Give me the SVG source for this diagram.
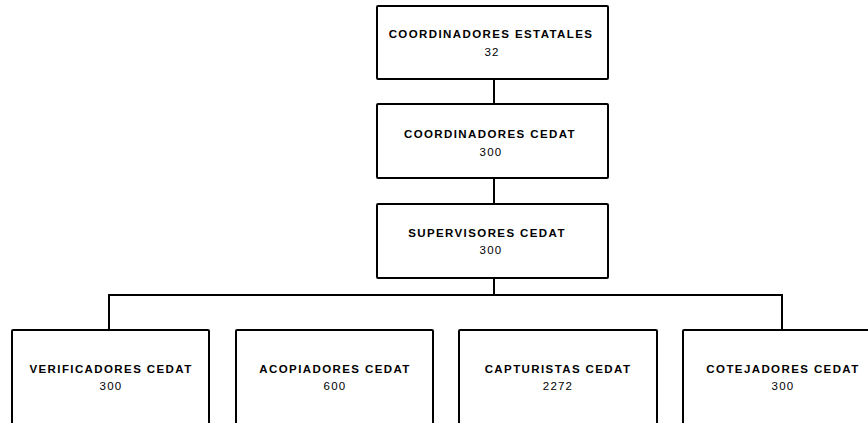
<svg xmlns="http://www.w3.org/2000/svg" width="868" height="423" viewBox="0 0 868 423">
<style>
.box{fill:#fff;stroke:#000;stroke-width:2;}
.t{font-family:"Liberation Sans",Arial,sans-serif;font-size:11.5px;font-weight:bold;letter-spacing:1.4px;text-anchor:middle;fill:#000;}
.n{font-family:"Liberation Sans",Arial,sans-serif;font-size:11.5px;letter-spacing:1.2px;text-anchor:middle;fill:#000;}
.c{fill:none;stroke:#000;stroke-width:2;}
</style>
<rect width="868" height="423" fill="#fff"/>
<g id="connectors">
<path class="c" d="M494 79V103"/>
<path class="c" d="M494 178V204"/>
<path class="c" d="M494 278V295"/>
<path class="c" d="M109 330V295H782V330"/>
</g>
<g id="coord-estatales">
<rect class="box" x="377" y="6" width="231" height="73" rx="1"/>
<text class="t" x="491" y="37.5">COORDINADORES ESTATALES</text>
<text class="n" x="492" y="55.5">32</text>
</g>
<g id="coord-cedat">
<rect class="box" x="377" y="104" width="231" height="74" rx="1"/>
<text class="t" x="490" y="137.5">COORDINADORES CEDAT</text>
<text class="n" x="491" y="155.5">300</text>
</g>
<g id="supervisores">
<rect class="box" x="377" y="204" width="231" height="74" rx="1"/>
<text class="t" x="487" y="237">SUPERVISORES CEDAT</text>
<text class="n" x="491" y="254">300</text>
</g>
<g id="verificadores">
<rect class="box" x="12" y="330" width="197" height="110" rx="1"/>
<text class="t" x="111" y="373">VERIFICADORES CEDAT</text>
<text class="n" x="111" y="390">300</text>
</g>
<g id="acopiadores">
<rect class="box" x="236" y="330" width="197" height="110" rx="1"/>
<text class="t" x="335" y="373">ACOPIADORES CEDAT</text>
<text class="n" x="335" y="390">600</text>
</g>
<g id="capturistas">
<rect class="box" x="459" y="330" width="198" height="110" rx="1"/>
<text class="t" x="558" y="373">CAPTURISTAS CEDAT</text>
<text class="n" x="558" y="390">2272</text>
</g>
<g id="cotejadores">
<rect class="box" x="683" y="330" width="198" height="110" rx="1"/>
<text class="t" x="783" y="373">COTEJADORES CEDAT</text>
<text class="n" x="783" y="390">300</text>
</g>
</svg>
